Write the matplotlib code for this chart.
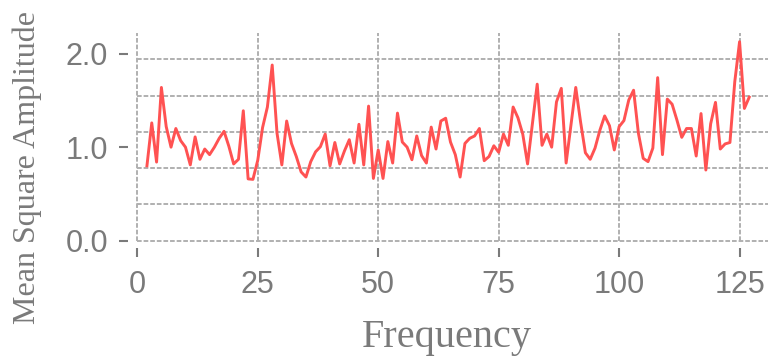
import matplotlib
matplotlib.use("Agg")
import matplotlib.pyplot as plt

# frequency bins 2..127 and their mean square amplitude
freq = list(range(2, 128))
msa = [
    0.80, 1.26, 0.84, 1.64, 1.22, 1.00, 1.20, 1.07, 1.00, 0.81,
    1.11, 0.87, 0.98, 0.92, 1.00, 1.095, 1.17, 1.01, 0.82, 0.87,
    1.39, 0.66, 0.655, 0.86, 1.21, 1.43, 1.88, 1.15, 0.81, 1.28,
    1.04, 0.90, 0.735, 0.68, 0.845, 0.95, 1.005, 1.14, 0.80, 1.05,
    0.82, 0.96, 1.08, 0.83, 1.245, 0.81, 1.44, 0.665, 0.97, 0.665,
    1.06, 0.83, 1.365, 1.055, 1.00, 0.865, 1.12, 0.91, 0.83, 1.215,
    0.98, 1.28, 1.31, 1.055, 0.92, 0.68, 1.04, 1.095, 1.12, 1.20,
    0.855, 0.90, 1.015, 0.945, 1.14, 1.02, 1.43, 1.315, 1.14, 0.82,
    1.25, 1.675, 1.02, 1.14, 1.00, 1.485, 1.63, 0.83, 1.235, 1.64,
    1.27, 0.94, 0.87, 0.99, 1.18, 1.335, 1.23, 0.97, 1.22, 1.285,
    1.505, 1.61, 1.15, 0.88, 0.845, 0.99, 1.745, 0.92, 1.515, 1.46,
    1.29, 1.105, 1.20, 1.20, 0.905, 1.36, 0.755, 1.25, 1.48, 0.98,
    1.035, 1.05, 1.70, 2.13, 1.415, 1.535,
]
x_ticks = [0, 25, 50, 75, 100, 125]
y_ticks = [0.0, 1.0, 2.0]
y_grid = [0.0, 0.388, 0.776, 1.164, 1.552, 1.940]

LINE = "#ff5252"
GREY = "#7a7a7a"
GRID = "#b0b0b0"

fig = plt.figure(figsize=(7.68, 3.6), dpi=100)
fig.patch.set_facecolor("white")
ax = fig.add_axes([137.3 / 768, 1 - 240.5 / 360, (768 - 137.3) / 768, (240.5 - 33.3) / 360])

ax.plot(freq, msa, color=LINE, linewidth=2.1, zorder=3)

ax.set_xlim(0, 130.9)
ax.set_ylim(0, 2.22)

for s in ax.spines.values():
    s.set_visible(False)
ax.spines["left"].set_position(("outward", 6.5))
ax.spines["bottom"].set_position(("outward", 5.5))

ax.set_xticks(x_ticks)
ax.set_xticklabels([str(t) for t in x_ticks])
ax.set_yticks(y_ticks)
ax.set_yticklabels([f"{t:.1f}" for t in y_ticks])
ax.tick_params(axis="both", which="major", colors=GREY, labelsize=22,
               length=6.5, width=1.5)
ax.tick_params(axis="y", which="major", pad=8)
ax.tick_params(axis="x", which="major", pad=9.5)
for lab in ax.get_xticklabels() + ax.get_yticklabels():
    lab.set_fontfamily("Liberation Sans")

# dashed grid: verticals on the x ticks, horizontals on their own spacing
dash = (0, (2.4, 1.0))
for xv in x_ticks:
    ax.axvline(xv, color=GRID, linewidth=1.4, linestyle=dash, clip_on=False, zorder=1)
for yv in y_grid:
    ax.axhline(yv, color=GRID, linewidth=1.4, linestyle=dash, clip_on=False, zorder=1)

fig.text(447 / 768, 1 - 338 / 360, "Frequency", ha="center", va="center",
         fontsize=29, color=GREY, family="Liberation Serif")
fig.text(27 / 768, 1 - 167 / 360, "Mean Square Amplitude", ha="center", va="center",
         rotation=90, fontsize=23, color=GREY, family="Liberation Serif")

fig.savefig("out.png", dpi=100, facecolor="white")
